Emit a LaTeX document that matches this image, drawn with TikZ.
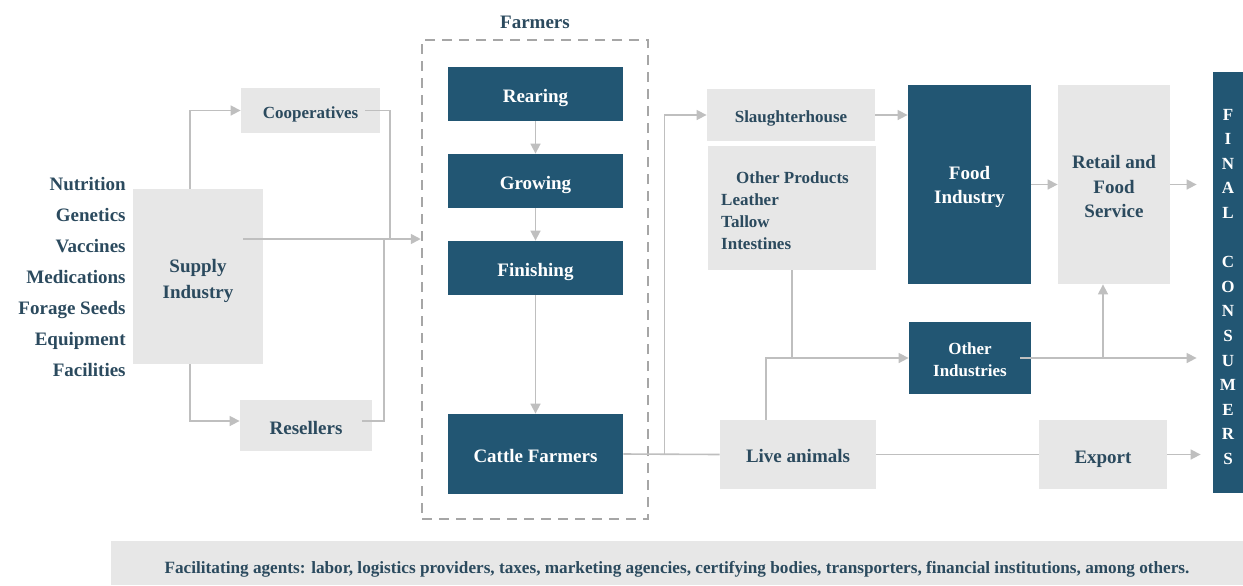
\documentclass[tikz,border=0pt]{standalone}
\usepackage{fontspec}
\setmainfont{Liberation Serif}
\usetikzlibrary{arrows.meta,calc}
\definecolor{navy}{HTML}{225673}
\definecolor{ink}{HTML}{2B4A5E}
\definecolor{panel}{HTML}{E7E7E7}
\definecolor{wiregray}{HTML}{BFBFBF}
\definecolor{edgegray}{HTML}{A6A6A6}
\begin{document}
\begin{tikzpicture}[x=0.5pt,y=-0.5pt,
	base/.style={inner sep=0pt,align=center,font=\bfseries\fontsize{9.5}{12.25}\selectfont},
	small/.style={font=\bfseries\fontsize{8.5}{11}\selectfont},
	oneline/.style={text height=8.5pt,text depth=0pt},
	graybox/.style={base,fill=panel,text=ink},
	bluebox/.style={base,fill=navy,text=white},
	wire/.style={draw=wiregray,line width=0.8pt},
	arr/.style={wire,-{Triangle[length=5pt,width=5pt]}}]
	\useasboundingbox (0,0) rectangle (1243,585);
	\node[base,text=ink,anchor=east,align=right,font=\bfseries\fontsize{9.5}{15.5}\selectfont] (inputs) at (126,277) {Nutrition\\Genetics\\Vaccines\\Medications\\Forage Seeds\\Equipment\\Facilities};
	\node[graybox,minimum width=65pt,minimum height=87.5pt,font=\bfseries\fontsize{9.5}{13}\selectfont,text height=21.6pt,text depth=0pt] (supply) at (198,276.5) {Supply\\Industry};
	\node[graybox,small,oneline,text height=8pt,minimum width=69.5pt,minimum height=22.5pt] (coop) at (310.5,110.5) {Cooperatives};
	\node[graybox,oneline,minimum width=66pt,minimum height=25.5pt] (resellers) at (306,425.5) {Resellers};
	\node[draw=edgegray,dash pattern=on 5pt off 3.5pt,line width=1.25pt,inner sep=0pt,minimum width=113pt,minimum height=239.5pt] (farmers) at (535,279.5) {};
	\node[base,text=ink] (farmerstitle) at (535,22) {Farmers};
	\node[bluebox,oneline,minimum width=87.5pt,minimum height=27pt] (rearing) at (535.5,94) {Rearing};
	\node[bluebox,oneline,minimum width=87.5pt,minimum height=27pt] (growing) at (535.5,181) {Growing};
	\node[bluebox,oneline,minimum width=87.5pt,minimum height=27pt] (finishing) at (535.5,268) {Finishing};
	\node[bluebox,oneline,minimum width=87.5pt,minimum height=40pt] (cattle) at (535.5,454) {Cattle Farmers};
	\node[graybox,small,oneline,text height=7.5pt,minimum width=84pt,minimum height=26pt] (slaughter) at (791,115) {Slaughterhouse};
	\node[graybox,small,align=left,text height=41pt,text depth=0pt,minimum width=84pt,minimum height=62pt] (otherprod) at (792,208) {\hspace*{7.5pt}Other Products\hspace*{7pt}\\Leather\\Tallow\\Intestines};
	\node[bluebox,minimum width=61.5pt,minimum height=99.5pt,font=\bfseries\fontsize{9.5}{12}\selectfont,text height=19.2pt,text depth=0pt] (food) at (969.5,184.5) {Food\\Industry};
	\node[graybox,text height=33pt,text depth=0pt,minimum width=56pt,minimum height=99.5pt] (retail) at (1114,184.5) {Retail and\\Food\\Service};
	\node[bluebox,small,text height=18.8pt,text depth=0pt,minimum width=61pt,minimum height=36pt] (otherind) at (970,358) {Other\\Industries};
	\node[graybox,oneline,text height=7.5pt,minimum width=78pt,minimum height=34.5pt] (live) at (798,454.5) {Live animals};
	\node[graybox,oneline,minimum width=64pt,minimum height=34.5pt] (export) at (1103,454.5) {Export};
	\node[bluebox,minimum width=15pt,minimum height=210.5pt,font=\bfseries\fontsize{8.5}{12.3}\selectfont,text height=182pt,text depth=0pt] (consumers) at (1228,282.5) {F\\I\\N\\A\\L\\~\\C\\O\\N\\S\\U\\M\\E\\R\\S};
	\node[graybox,minimum width=566pt,minimum height=22pt,font=\bfseries\fontsize{8.6}{10}\selectfont,text height=10pt,text depth=0pt] (facil) at (677,563) {Facilitating agents: labor, logistics providers, taxes, marketing agencies, certifying bodies, transporters, financial institutions, among others.};
	\coordinate (fin) at ($(farmers.west)+(0,-40.5)$);
	\draw[arr] ($(supply.north)+(-8,0)$) |- (coop.west);
	\draw[arr] ($(supply.south)+(-8,0)$) |- ($(resellers.west)+(0,-4.5)$);
	\draw[arr] ($(supply.east |- fin)+(-20,0)$) -- (fin);
	\draw[wire] ($(coop.east)+(-15,0)$) -| ($(fin)+(-31,0)$);
	\draw[wire] ($(resellers.east)+(-10,-4.5)$) -| ($(fin)+(-37,0)$);
	\foreach \a/\b in {rearing/growing,growing/finishing,finishing/cattle}{
		\draw[arr] (\a) -- (\b);
		}
	\draw[wire] (cattle.east) -- (live.west);
	\draw[arr] ($(cattle.east)+(41,0)$) |- (slaughter.west);
	\draw[arr] (slaughter.east) -- (slaughter.east -| food.west);
	\draw[arr] (otherprod.south) |- (otherind.west);
	\draw[wire] ($(live.north)+(-32,0)$) |- (otherprod.south |- otherind.west);
	\draw[arr] (food.east) -- (retail.west);
	\draw[arr] (retail.east) -- ($(consumers.west |- retail.east)+(-16,0)$);
	\draw[arr] ($(otherind.east)+(-11,0)$) -- ($(consumers.west |- otherind.east)+(-16,0)$);
	\draw[arr] ($(otherind.east -| retail.south)+(-11,0)$) -- ($(retail.south)+(-11,0)$);
	\draw[wire] (live.east) -- (export.west);
	\draw[arr] (export.east) -- ($(consumers.west |- export.east)+(-12,0)$);
\end{tikzpicture}
\end{document}
